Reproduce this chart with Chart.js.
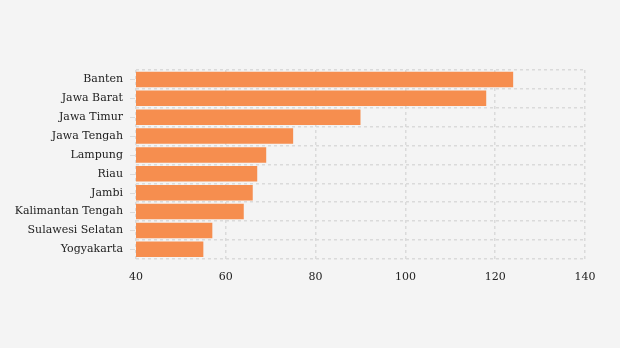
<!DOCTYPE html>
<html lang="en">
<head>
  <meta charset="UTF-8">
  <title>Provinsi</title>
  <style>
    html, body { margin: 0; padding: 0; background: #f4f4f4; }
    #wrap { width: 620px; height: 348px; }
  </style>
  <script src="https://cdn.jsdelivr.net/npm/chart.js"></script>
</head>
<body>
<div id="wrap"><canvas id="chart" width="620" height="348"></canvas></div>
<script>
  const provinces = ['Banten', 'Jawa Barat', 'Jawa Timur', 'Jawa Tengah', 'Lampung', 'Riau',
                     'Jambi', 'Kalimantan Tengah', 'Sulawesi Selatan', 'Yogyakarta'];
  const values = [124, 118, 90, 75, 69, 67, 66, 64, 57, 55];
  const xTicks = [40, 60, 80, 100, 120, 140];

  const gridColor = '#dadada';
  const font = { family: "'DejaVu Serif', serif", size: 11 };

  // small tick marks at each label, grid itself sits between categories
  const yTickMarks = {
    id: 'yTickMarks',
    afterDraw(chart) {
      const ctx = chart.ctx, y = chart.scales.y;
      ctx.save();
      ctx.strokeStyle = gridColor;
      ctx.lineWidth = 1;
      provinces.forEach((p, i) => {
        const py = Math.round(y.getPixelForValue(i)) + 0.5;
        ctx.beginPath();
        ctx.moveTo(y.right - 6, py);
        ctx.lineTo(y.right - 1, py);
        ctx.stroke();
      });
      ctx.restore();
    }
  };

  new Chart(document.getElementById('chart'), {
    type: 'bar',
    data: {
      labels: provinces,
      datasets: [{
        data: values,
        backgroundColor: '#f68e4f',
        borderWidth: 0,
        barPercentage: 0.82,
        categoryPercentage: 1
      }]
    },
    options: {
      indexAxis: 'y',
      responsive: false,
      animation: false,
      layout: { padding: { top: 70, right: 35, bottom: 52, left: 0 } },
      plugins: { legend: { display: false }, tooltip: { enabled: false } },
      scales: {
        x: {
          min: xTicks[0],
          max: xTicks[xTicks.length - 1],
          afterBuildTicks: s => { s.ticks = xTicks.map(v => ({ value: v })); },
          grid: { color: gridColor, lineWidth: 1.5, drawTicks: false },
          border: { display: false, dash: [3, 3] },
          ticks: { font: font, color: '#222', padding: 12 }
        },
        y: {
          grid: { color: gridColor, lineWidth: 1.5, drawTicks: false, offset: true },
          border: { display: false, dash: [3, 3] },
          ticks: { font: font, color: '#222', padding: 13 },
          afterFit: s => { s.width = 136; }
        }
      }
    },
    plugins: [yTickMarks]
  });
</script>
</body>
</html>
